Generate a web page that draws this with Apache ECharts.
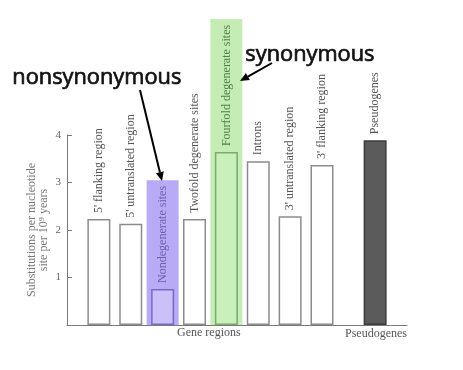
<!DOCTYPE html>
<html><head><meta charset="utf-8">
<script src="https://cdn.jsdelivr.net/npm/echarts@6/dist/echarts.min.js"></script>
<style>html,body{margin:0;padding:0;background:#fff}#c{width:463px;height:370px}</style>
</head><body><div id="c"></div>
<script>
// ---- data ----
const categories = ["5' flanking region", "5' untranslated region", "Nondegenerate sites", "Twofold degenerate sites", "Fourfold degenerate sites", "Introns", "3' untranslated region", "3' flanking region", "Pseudogenes"];
const values = [2.23, 2.13, 0.76, 2.23, 3.64, 3.45, 2.29, 3.37, 3.89];
const highlightCategories = ["Nondegenerate sites", "Fourfold degenerate sites"];
const highlightValues = [3.05, 6.44];
const yTicks = [1, 2, 3, 4];
const groupLabels = ["Gene regions", "Pseudogenes"];
const annotations = ["nonsynonymous", "synonymous"];
const yTitle = ["Substitutions per nucleotide", "site per 10\u2079 years"];

// ---- layout (slot positions on a fine category axis) ----
const NPTS = 33;
const slotOf = (i) => (i < 8 ? 3 + 3 * i : 29);
const xCats = Array(NPTS).fill('');
categories.forEach((c, i) => { xCats[slotOf(i)] = c; });

const styleFor = {
  "Nondegenerate sites": { color: '#cbc0f8', borderColor: '#7a69c2', label: '#6e5fae' },
  "Fourfold degenerate sites": { color: '#c9efba', borderColor: '#78ab6c', label: '#4f7f48' },
  "Pseudogenes": { color: '#5b5b5b', borderColor: '#3c3c3c', label: '#555' }
};
const barData = Array(NPTS).fill('-');
categories.forEach((c, i) => {
  const s = styleFor[c] || { color: '#fff', borderColor: '#8c8c8c', label: '#555' };
  barData[slotOf(i)] = {
    value: values[i], name: c,
    itemStyle: { color: s.color, borderColor: s.borderColor, borderWidth: 1.5 },
    label: { color: s.label }
  };
});
const bandColors = { "Nondegenerate sites": '#b9aaf6', "Fourfold degenerate sites": '#c6ecb6' };
const bandData = Array(NPTS).fill('-');
highlightCategories.forEach((c, j) => {
  const i = categories.indexOf(c);
  bandData[slotOf(i)] = { value: highlightValues[j], itemStyle: { color: bandColors[c] } };
});

function arrow(x1, y1, x2, y2) {
  const a = Math.atan2(y2 - y1, x2 - x1), L = 9, W = 4;
  const bx = x2 - L * Math.cos(a), by = y2 - L * Math.sin(a);
  const px = -Math.sin(a) * W, py = Math.cos(a) * W;
  return [
    { type: 'line', shape: { x1, y1, x2: bx, y2: by }, style: { stroke: '#000', lineWidth: 2 }, z: 10 },
    { type: 'polygon', shape: { points: [[x2, y2], [bx + px, by + py], [bx - px, by - py]] }, style: { fill: '#000' }, z: 10 }
  ];
}

const serif = 'Liberation Serif';
const annoStyle = (t) => ({ text: t, font: '21.8px "Open Sans"', fill: '#111', stroke: '#111', lineWidth: 0.7 });
const chart = echarts.init(document.getElementById('c'), null, { renderer: 'canvas' });
chart.setOption({
  animation: false,
  backgroundColor: '#fff',
  grid: [
    { left: 67, right: 56, top: 16.25, bottom: 45 },
    { left: 67, right: 56, top: 135, bottom: 45 }
  ],
  xAxis: [
    { gridIndex: 0, type: 'category', data: xCats, boundaryGap: false, show: false },
    { gridIndex: 1, type: 'category', data: xCats, boundaryGap: false,
      axisLine: { lineStyle: { color: '#7a7a7a', width: 1 } }, axisTick: { show: false }, axisLabel: { show: false } }
  ],
  yAxis: [
    { gridIndex: 0, type: 'value', min: 0, max: 6.5, show: false },
    { gridIndex: 1, type: 'value', min: 0, max: yTicks[yTicks.length - 1], interval: 1,
      axisLine: { show: true, lineStyle: { color: '#7a7a7a', width: 1 } },
      axisTick: { show: true, inside: true, length: 5, lineStyle: { color: '#7a7a7a' } },
      splitLine: { show: false },
      axisLabel: { margin: 6, fontFamily: serif, fontSize: 11, color: '#666',
        formatter: v => (yTicks.indexOf(v) >= 0 ? String(v) : '') },
      name: yTitle.join('\n'), nameLocation: 'middle', nameGap: 17, nameRotate: 90, nameMoveOverlap: false,
      nameTextStyle: { fontFamily: serif, fontSize: 12, color: '#777', lineHeight: 12 } }
  ],
  series: [
    { type: 'bar', xAxisIndex: 0, yAxisIndex: 0, data: bandData, barWidth: 32, z: 1, silent: true },
    { type: 'bar', xAxisIndex: 1, yAxisIndex: 1, data: barData, barWidth: 23, z: 3,
      label: { show: true, position: 'top', rotate: 90, align: 'left', verticalAlign: 'middle', distance: 6,
        fontFamily: serif, fontSize: 12, formatter: p => p.name } }
  ],
  graphic: [
    { type: 'text', left: 177, top: 327, style: { text: groupLabels[0], font: '12px "Liberation Serif"', fill: '#555' } },
    { type: 'text', left: 345, top: 328, style: { text: groupLabels[1], font: '12px "Liberation Serif"', fill: '#555' } },
    { type: 'text', left: 12, top: 66, style: annoStyle(annotations[0]), z: 10 },
    { type: 'text', left: 245, top: 43, style: annoStyle(annotations[1]), z: 10 },
    ...arrow(140, 90, 162, 181),
    ...arrow(272, 63, 240, 81)
  ]
});
</script></body></html>
